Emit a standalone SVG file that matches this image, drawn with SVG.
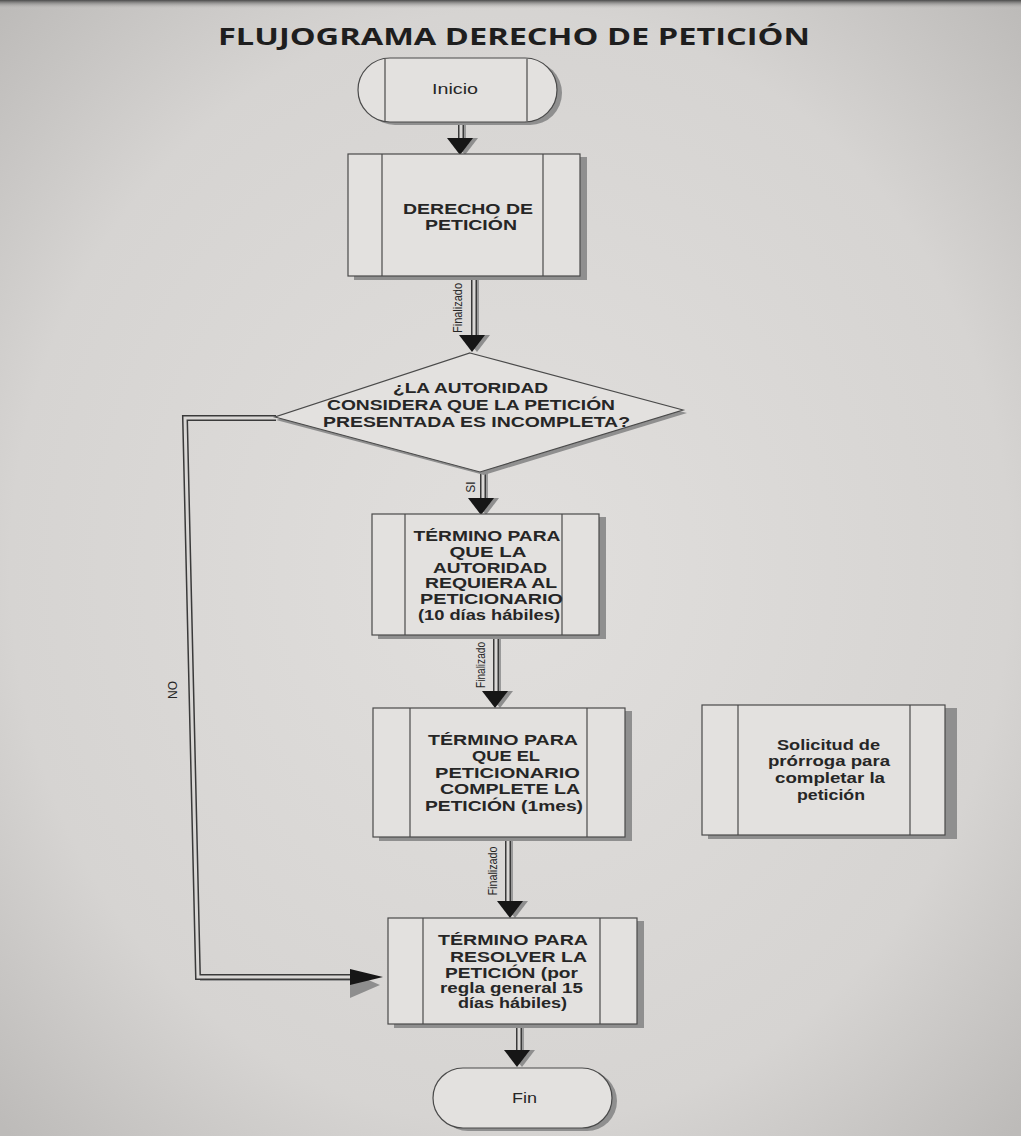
<svg xmlns="http://www.w3.org/2000/svg" xmlns:xlink="http://www.w3.org/1999/xlink" width="1021" height="1136" viewBox="0 0 1021 1136">
<defs>
<radialGradient id="paper" cx="50%" cy="50%" r="70%">
<stop offset="0" stop-color="#e1dfdd"/>
<stop offset="0.7" stop-color="#d6d4d2"/>
<stop offset="1" stop-color="#bdbbb9"/>
</radialGradient>
<linearGradient id="topedge" x1="0" y1="0" x2="0" y2="1">
<stop offset="0" stop-color="#4a4a4a"/>
<stop offset="1" stop-color="#cfcdcb" stop-opacity="0"/>
</linearGradient>
<g id="ahd">
<path d="M-9,0 L18,0 L5,17 Z" fill="#8e8e8e"/>
<path d="M-13,0 L13,0 L0,17 Z" fill="#161616"/>
</g>
<g id="ahr">
<path d="M0,-5 L0,21 L30,8 Z" fill="#8e8e8e"/>
<path d="M0,-8 L0,8 L33,0 Z" fill="#161616"/>
</g>
</defs>
<style>
.box{fill:#e3e1df;stroke:#4a4a4a;stroke-width:1.2}
.shadow{fill:#8f8f8f}
.inner{stroke:#4a4a4a;stroke-width:1.2;fill:none}
.t{font-family:"Liberation Sans",Arial,sans-serif;font-weight:bold;font-size:14px;fill:#262626;text-anchor:middle}
.tr{font-family:"Liberation Sans",Arial,sans-serif;font-weight:normal;font-size:14px;fill:#262626;text-anchor:middle}
.lbl{font-family:"Liberation Sans",Arial,sans-serif;font-size:12px;fill:#262626;text-anchor:middle}
.title{font-family:"Open Sans","Liberation Sans",sans-serif;font-weight:bold;font-size:23px;fill:#1e1e1e;text-anchor:middle}
.sh-out{fill:none;stroke:#3a3a3a;stroke-width:6}
.sh-in{fill:none;stroke:#d9d7d5;stroke-width:3}
.sh-gray{fill:none;stroke:#9a9a9a;stroke-width:2}
</style>
<rect x="0" y="0" width="1021" height="1136" fill="url(#paper)"/>
<rect x="0" y="0" width="1021" height="9" fill="url(#topedge)"/>

<text class="title" x="514" y="45" textLength="592" lengthAdjust="spacingAndGlyphs">FLUJOGRAMA DERECHO DE PETICIÓN</text>

<g id="connectors">
<!-- Inicio -> Derecho -->
<path class="sh-gray" d="M465,122 V138"/>
<path class="sh-out" d="M461,122 V138"/>
<path class="sh-in" d="M461,122 V138"/>
<use xlink:href="#ahd" x="460" y="138"/>
<!-- Derecho -> diamond -->
<path class="sh-gray" d="M478,278 V336"/>
<path class="sh-out" d="M474,278 V336"/>
<path class="sh-in" d="M474,278 V336"/>
<use xlink:href="#ahd" x="472" y="335"/>
<text class="lbl" transform="translate(462,308) rotate(-90)" textLength="50" lengthAdjust="spacingAndGlyphs">Finalizado</text>
<!-- SI -->
<path class="sh-gray" d="M487,473 V499"/>
<path class="sh-out" d="M483,473 V499"/>
<path class="sh-in" d="M483,473 V499"/>
<use xlink:href="#ahd" x="481" y="498"/>
<text class="lbl" transform="translate(475,487) rotate(-90)">SI</text>
<!-- box1 -> box2 -->
<path class="sh-gray" d="M500,638 V691"/>
<path class="sh-out" d="M496,638 V691"/>
<path class="sh-in" d="M496,638 V691"/>
<use xlink:href="#ahd" x="495" y="691"/>
<text class="lbl" transform="translate(485,665) rotate(-90)" textLength="46" lengthAdjust="spacingAndGlyphs">Finalizado</text>
<!-- box2 -> box3 -->
<path class="sh-gray" d="M512,840 V902"/>
<path class="sh-out" d="M508,840 V902"/>
<path class="sh-in" d="M508,840 V902"/>
<use xlink:href="#ahd" x="510" y="901"/>
<text class="lbl" transform="translate(497,871) rotate(-90)" textLength="49" lengthAdjust="spacingAndGlyphs">Finalizado</text>
<!-- box3 -> Fin -->
<path class="sh-gray" d="M523,1027 V1051"/>
<path class="sh-out" d="M519,1027 V1051"/>
<path class="sh-in" d="M519,1027 V1051"/>
<use xlink:href="#ahd" x="517" y="1050"/>
<!-- NO -->
<path class="sh-gray" d="M200,980 H352"/>
<path class="sh-out" d="M276,418 H185 L198,977 H352"/>
<path class="sh-in" d="M276,418 H185 L198,977 H352"/>
<use xlink:href="#ahr" x="350" y="977"/>
<text class="lbl" transform="translate(177,690) rotate(-90)">NO</text>
</g>

<g id="inicio">
<rect x="363" y="61" width="199" height="64" rx="32" class="shadow"/>
<rect x="358" y="58" width="199" height="64" rx="32" class="box"/>
<line x1="385" y1="59" x2="385" y2="121" class="inner"/>
<line x1="527" y1="59" x2="527" y2="121" class="inner"/>
<text class="tr" x="455" y="94" textLength="46" lengthAdjust="spacingAndGlyphs">Inicio</text>
</g>

<g id="derecho">
<rect x="354" y="157" width="233" height="123" class="shadow"/>
<rect x="348" y="154" width="232" height="122" class="box"/>
<line x1="382" y1="154" x2="382" y2="276" class="inner"/>
<line x1="543" y1="154" x2="543" y2="276" class="inner"/>
<text class="t" x="468" y="214" textLength="130" lengthAdjust="spacingAndGlyphs">DERECHO DE</text>
<text class="t" x="471" y="230" textLength="92" lengthAdjust="spacingAndGlyphs">PETICIÓN</text>
</g>

<g id="decision">
<path d="M470,356 L687,413 L484,475 L276,420 Z" class="shadow"/>
<path d="M470,353 L683,410 L480,472 L275,417 Z" class="box"/>
<text class="t" x="470.5" y="393" textLength="155" lengthAdjust="spacingAndGlyphs">¿LA AUTORIDAD</text>
<text class="t" x="471" y="410" textLength="288" lengthAdjust="spacingAndGlyphs">CONSIDERA QUE LA PETICIÓN</text>
<text class="t" x="476.5" y="427" textLength="307" lengthAdjust="spacingAndGlyphs">PRESENTADA ES INCOMPLETA?</text>
</g>

<g id="requerir">
<rect x="378" y="517" width="228" height="122" class="shadow"/>
<rect x="372" y="514" width="227" height="121" class="box"/>
<line x1="405" y1="514" x2="405" y2="635" class="inner"/>
<line x1="562" y1="514" x2="562" y2="635" class="inner"/>
<text class="t" x="487" y="541" textLength="147" lengthAdjust="spacingAndGlyphs">TÉRMINO PARA</text>
<text class="t" x="488" y="557" textLength="77" lengthAdjust="spacingAndGlyphs">QUE LA</text>
<text class="t" x="490" y="573" textLength="114" lengthAdjust="spacingAndGlyphs">AUTORIDAD</text>
<text class="t" x="491" y="588" textLength="132" lengthAdjust="spacingAndGlyphs">REQUIERA AL</text>
<text class="t" x="491.5" y="604" textLength="143" lengthAdjust="spacingAndGlyphs">PETICIONARIO</text>
<text class="t" x="489" y="620" textLength="142" lengthAdjust="spacingAndGlyphs">(10 días hábiles)</text>
</g>

<g id="completar">
<rect x="379" y="711" width="253" height="130" class="shadow"/>
<rect x="373" y="708" width="252" height="129" class="box"/>
<line x1="410" y1="708" x2="410" y2="837" class="inner"/>
<line x1="587" y1="708" x2="587" y2="837" class="inner"/>
<text class="t" x="503" y="745" textLength="150" lengthAdjust="spacingAndGlyphs">TÉRMINO PARA</text>
<text class="t" x="506" y="761" textLength="68" lengthAdjust="spacingAndGlyphs">QUE EL</text>
<text class="t" x="507.5" y="778" textLength="145" lengthAdjust="spacingAndGlyphs">PETICIONARIO</text>
<text class="t" x="510" y="794" textLength="140" lengthAdjust="spacingAndGlyphs">COMPLETE LA</text>
<text class="t" x="504" y="811" textLength="158" lengthAdjust="spacingAndGlyphs">PETICIÓN (1mes)</text>
</g>

<g id="prorroga">
<rect x="708" y="708" width="249" height="131" class="shadow"/>
<rect x="702" y="705" width="243" height="130" class="box"/>
<line x1="738" y1="705" x2="738" y2="835" class="inner"/>
<line x1="910" y1="705" x2="910" y2="835" class="inner"/>
<text class="t" x="828.5" y="750" textLength="103" lengthAdjust="spacingAndGlyphs">Solicitud de</text>
<text class="t" x="829" y="766" textLength="122" lengthAdjust="spacingAndGlyphs">prórroga para</text>
<text class="t" x="830" y="783" textLength="110" lengthAdjust="spacingAndGlyphs">completar la</text>
<text class="t" x="831" y="800" textLength="68" lengthAdjust="spacingAndGlyphs">petición</text>
</g>

<g id="resolver">
<rect x="394" y="921" width="250" height="107" class="shadow"/>
<rect x="388" y="918" width="249" height="106" class="box"/>
<line x1="423" y1="918" x2="423" y2="1024" class="inner"/>
<line x1="600" y1="918" x2="600" y2="1024" class="inner"/>
<text class="t" x="513" y="945" textLength="150" lengthAdjust="spacingAndGlyphs">TÉRMINO PARA</text>
<text class="t" x="518.5" y="962" textLength="137" lengthAdjust="spacingAndGlyphs">RESOLVER LA</text>
<text class="t" x="511.5" y="978" textLength="133" lengthAdjust="spacingAndGlyphs">PETICIÓN (por</text>
<text class="t" x="511.5" y="993" textLength="143" lengthAdjust="spacingAndGlyphs">regla general 15</text>
<text class="t" x="512.5" y="1008" textLength="109" lengthAdjust="spacingAndGlyphs">días hábiles)</text>
</g>

<g id="fin">
<rect x="438" y="1071" width="179" height="60" rx="30" class="shadow"/>
<rect x="433" y="1068" width="179" height="60" rx="30" class="box"/>
<text class="tr" x="524.5" y="1103" textLength="25" lengthAdjust="spacingAndGlyphs">Fin</text>
</g>
</svg>
